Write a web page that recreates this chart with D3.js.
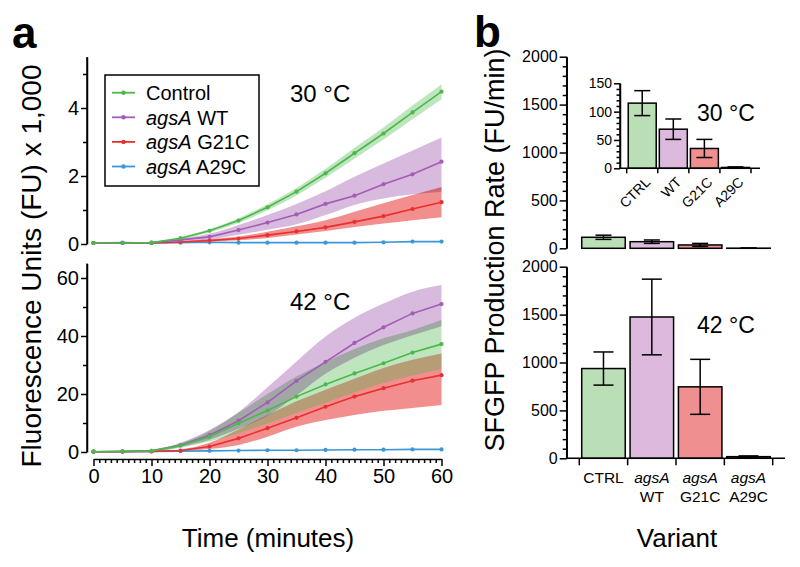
<!DOCTYPE html>
<html>
<head>
<meta charset="utf-8">
<script src="https://cdn.jsdelivr.net/npm/d3@7"></script>
<style>
  html, body { margin: 0; padding: 0; background: #fff; }
  svg { display: block; font-family: "Liberation Sans", Arial, Helvetica, sans-serif; }
</style>
</head>
<body>
<svg id="chart" width="800" height="567"></svg>
<script>
// ---------- DATA ----------
const minutes = [0, 5, 10, 15, 20, 25, 30, 35, 40, 45, 50, 55, 60];

// 30 °C time courses (FU x 1,000)
const ctrl30   = [0.03, 0.03, 0.04, 0.17, 0.39, 0.69, 1.08, 1.54, 2.08, 2.67, 3.25, 3.87, 4.48];
const ctrl30Hi = [0.04, 0.04, 0.05, 0.20, 0.44, 0.76, 1.17, 1.65, 2.21, 2.83, 3.43, 4.07, 4.70];
const ctrl30Lo = [0.02, 0.02, 0.03, 0.14, 0.34, 0.62, 0.99, 1.43, 1.95, 2.51, 3.07, 3.67, 4.26];
const wt30     = [0.03, 0.03, 0.04, 0.12, 0.21, 0.41, 0.63, 0.87, 1.18, 1.42, 1.76, 2.05, 2.42];
const wt30Hi   = [0.03, 0.03, 0.05, 0.16, 0.30, 0.56, 0.85, 1.18, 1.55, 1.98, 2.37, 2.75, 3.13];
const wt30Lo   = [0.03, 0.03, 0.03, 0.08, 0.13, 0.27, 0.42, 0.58, 0.85, 1.15, 1.34, 1.46, 1.54];
const g21c30   = [0.03, 0.03, 0.03, 0.06, 0.10, 0.16, 0.26, 0.37, 0.49, 0.65, 0.82, 1.03, 1.23];
const g21c30Hi = [0.03, 0.03, 0.04, 0.08, 0.14, 0.22, 0.36, 0.52, 0.70, 0.95, 1.20, 1.44, 1.68];
const g21c30Lo = [0.03, 0.03, 0.02, 0.04, 0.07, 0.11, 0.18, 0.28, 0.38, 0.50, 0.60, 0.70, 0.79];
const a29c30   = [0.03, 0.04, 0.03, 0.04, 0.05, 0.04, 0.04, 0.04, 0.04, 0.04, 0.05, 0.07, 0.07];

// 42 °C time courses (FU x 1,000)
const ctrl42   = [0.1, 0.2, 0.4, 2.2, 5.3, 9.9, 14.3, 19.1, 23.3, 27.1, 30.6, 34.3, 37.2];
const ctrl42Hi = [0.2, 0.3, 0.6, 2.9, 7.2, 13.5, 20.0, 26.0, 31.0, 35.5, 39.2, 42.1, 45.5];
const ctrl42Lo = [0.0, 0.1, 0.2, 1.5, 3.6, 6.5, 9.8, 13.5, 17.0, 20.5, 23.8, 26.4, 28.5];
const wt42     = [0.1, 0.2, 0.4, 2.4, 5.8, 10.8, 17.1, 24.5, 31.1, 37.6, 43.0, 47.8, 51.0];
const wt42Hi   = [0.2, 0.3, 0.6, 3.2, 7.6, 13.8, 22.3, 31.2, 39.8, 46.3, 51.2, 55.3, 57.6];
const wt42Lo   = [0.0, 0.1, 0.2, 1.7, 4.2, 8.0, 12.5, 19.5, 27.0, 32.5, 36.9, 40.3, 43.4];
const g21c42   = [0.1, 0.1, 0.2, 0.5, 1.9, 4.7, 8.2, 11.8, 15.6, 19.1, 22.0, 24.6, 26.5];
const g21c42Hi = [0.1, 0.2, 0.3, 0.9, 3.2, 7.8, 12.8, 17.5, 21.5, 25.3, 29.0, 31.8, 34.0];
const g21c42Lo = [0.1, 0.1, 0.1, 0.3, 1.0, 2.4, 5.3, 8.7, 11.0, 12.8, 14.2, 15.2, 16.2];
const a29c42   = [0.1, 0.1, 0.2, 0.3, 0.4, 0.5, 0.6, 0.6, 0.7, 0.8, 0.8, 0.9, 0.9];

// Production rates (FU/min)
const variants   = ["CTRL", "WT", "G21C", "A29C"];
const rate30     = [115, 69, 35, 1.5];
const rate30Err  = [22, 18, 16, 1];
const rate42     = [937, 1475, 746, 17];
const rate42Err  = [173, 395, 287, 8];

// Axis ticks
const yTopTicks = [0, 2, 4];
const yBotTicks = [0, 20, 40, 60];
const xTicks = [0, 10, 20, 30, 40, 50, 60];
const rateTicks = [0, 500, 1000, 1500, 2000];
const insetTicks = [0, 50, 100, 150];

// Series styling
const legendNames = [["", "Control"], ["agsA", " WT"], ["agsA", " G21C"], ["agsA", " A29C"]];
const lineColors = ["#4cb84a", "#a35db5", "#e8312f", "#3a97d8"];
const bandColors = ["#4cb84a", "#d8bade", "#e8312f", "#3a97d8"];
const bandAlpha = [0.36, 1, 0.55, 0.3];
const bandBlend = ["normal", "multiply", "normal", "normal"];
const barFills = ["#badeb5", "#ddbadd", "#f08f8f", "#f4f4f4"];

// ---------- DRAW ----------
const svg = d3.select("#chart");
const FONT = '"Liberation Sans", Arial, Helvetica, sans-serif';

const x = d3.scaleLinear([0, 60], [93.5, 441.5]);
const yTop = d3.scaleLinear([0, 5.5], [244, 57]);
const yBot = d3.scaleLinear([0, 65], [452, 263.5]);

function styleAxis(g, fs) {
  g.selectAll("path.domain").attr("stroke", "#000").attr("stroke-width", 1.5);
  g.selectAll(".tick line").attr("stroke", "#000").attr("stroke-width", 1.5);
  g.selectAll(".tick text").attr("font-size", fs).attr("font-family", FONT).attr("fill", "#000");
}

function yAxisWithMinor(parent, scale, xpos, major, minorStep, fs, majorLen, minorLen, pad, fmt) {
  const d = scale.domain();
  const minor = d3.range(d[0], d[1] + 1e-9, minorStep).filter(v => !major.some(m => Math.abs(m - v) < 1e-9));
  const gm = parent.append("g").attr("transform", `translate(${xpos},0)`)
    .call(d3.axisLeft(scale).tickValues(minor).tickSize(minorLen).tickSizeOuter(0).tickFormat(""));
  styleAxis(gm, fs);
  const g = parent.append("g").attr("transform", `translate(${xpos},0)`)
    .call(d3.axisLeft(scale).tickValues(major).tickSize(majorLen).tickSizeOuter(0).tickPadding(pad).tickFormat(fmt || d3.format("d")));
  styleAxis(g, fs);
  g.select("path.domain").remove();
  return g;
}

// --- Panel a: time courses ---
const topSeries = [
  {v: ctrl30, hi: ctrl30Hi, lo: ctrl30Lo, c: 0},
  {v: wt30, hi: wt30Hi, lo: wt30Lo, c: 1},
  {v: g21c30, hi: g21c30Hi, lo: g21c30Lo, c: 2},
  {v: a29c30, c: 3}
];
const botSeries = [
  {v: ctrl42, hi: ctrl42Hi, lo: ctrl42Lo, c: 0},
  {v: wt42, hi: wt42Hi, lo: wt42Lo, c: 1},
  {v: g21c42, hi: g21c42Hi, lo: g21c42Lo, c: 2},
  {v: a29c42, c: 3}
];

function drawPanel(series, y) {
  const g = svg.append("g").style("isolation", "isolate");
  // band order: red, green, purple (multiply)
  [2, 0, 1].forEach(ci => {
    const s = series.find(q => q.c === ci);
    if (!s.hi) return;
    const area = d3.area()
      .x((d, i) => x(minutes[i]))
      .y0((d, i) => y(s.lo[i]))
      .y1((d, i) => y(s.hi[i]))
      .curve(d3.curveMonotoneX);
    g.append("path").datum(s.v).attr("d", area)
      .attr("fill", bandColors[ci]).attr("fill-opacity", bandAlpha[ci]).attr("stroke", "none")
      .style("mix-blend-mode", bandBlend[ci]);
  });
  [3, 2, 1, 0].forEach(ci => {
    const s = series.find(q => q.c === ci);
    const line = d3.line().x((d, i) => x(minutes[i])).y(d => y(d));
    g.append("path").datum(s.v).attr("d", line)
      .attr("fill", "none").attr("stroke", lineColors[ci]).attr("stroke-width", 1.6);
    g.selectAll(null).data(s.v).enter().append("circle")
      .attr("cx", (d, i) => x(minutes[i])).attr("cy", d => y(d)).attr("r", 2.1)
      .attr("fill", lineColors[ci]);
  });
}
drawPanel(topSeries, yTop);
drawPanel(botSeries, yBot);

// left y axes
const axTop = svg.append("g");
axTop.append("line").attr("x1", 87).attr("x2", 87).attr("y1", yTop(0)).attr("y2", yTop(5.5))
  .attr("stroke", "#000").attr("stroke-width", 1.5);
yAxisWithMinor(axTop, yTop, 87, yTopTicks, 1, 20, 6, 4, 2);
const axBot = svg.append("g");
axBot.append("line").attr("x1", 87).attr("x2", 87).attr("y1", yBot(0)).attr("y2", yBot(65))
  .attr("stroke", "#000").attr("stroke-width", 1.5);
yAxisWithMinor(axBot, yBot, 87, yBotTicks, 10, 20, 6, 4, 2);

// x axis
const xMinor = d3.range(0, 61, 1).filter(v => v % 10 !== 0);
const gxm = svg.append("g").attr("transform", "translate(0,459)")
  .call(d3.axisBottom(x).tickValues(xMinor).tickSize(4).tickSizeOuter(0).tickFormat(""));
styleAxis(gxm, 20);
const gx = svg.append("g").attr("transform", "translate(0,459)")
  .call(d3.axisBottom(x).tickValues(xTicks).tickSize(7).tickSizeOuter(0).tickPadding(3).tickFormat(d3.format("d")));
styleAxis(gx, 20);
gx.select("path.domain").remove();

// panel a texts
svg.append("text").attr("x", 12).attr("y", 48).attr("font-size", 44).attr("font-weight", "bold")
  .attr("font-family", FONT).text("a");
svg.append("text").attr("transform", "translate(41,266) rotate(-90)").attr("text-anchor", "middle")
  .attr("font-size", 28).attr("font-family", FONT).text("Fluorescence Units (FU) x 1,000");
svg.append("text").attr("x", 268).attr("y", 547).attr("text-anchor", "middle")
  .attr("font-size", 26).attr("font-family", FONT).text("Time (minutes)");
svg.append("text").attr("x", 290).attr("y", 101.5).attr("font-size", 24).attr("font-family", FONT).text("30 °C");
svg.append("text").attr("x", 290).attr("y", 309.5).attr("font-size", 24).attr("font-family", FONT).text("42 °C");

// legend
const lg = svg.append("g");
lg.append("rect").attr("x", 105).attr("y", 75).attr("width", 154).attr("height", 111)
  .attr("fill", "#fff").attr("stroke", "#000").attr("stroke-width", 1.5);
legendNames.forEach((nm, i) => {
  const cy = 92.7 + i * 24.6;
  lg.append("line").attr("x1", 112).attr("x2", 135).attr("y1", cy).attr("y2", cy)
    .attr("stroke", lineColors[i]).attr("stroke-width", 1.8);
  lg.append("circle").attr("cx", 123.5).attr("cy", cy).attr("r", 2.2).attr("fill", lineColors[i]);
  const t = lg.append("text").attr("x", 146).attr("y", cy + 7.2).attr("font-size", 20).attr("font-family", FONT);
  if (nm[0]) t.append("tspan").attr("font-style", "italic").text(nm[0]);
  t.append("tspan").text(nm[1]);
});

// --- Panel b: bars ---
const xb = d3.scaleBand(variants, [579.3, 772.7]).paddingInner(0.1).paddingOuter(0.05);
const yRT = d3.scaleLinear([0, 2000], [248.3, 56.7]);
const yRB = d3.scaleLinear([0, 2000], [458.3, 266.7]);
const xi = d3.scaleBand(variants, [626.7, 751]).paddingInner(0.1).paddingOuter(0.05);
const yIn = d3.scaleLinear([0, 150], [168.3, 83.3]);

function drawBars(xs, ys, vals, errs, capW) {
  const g = svg.append("g");
  g.selectAll("rect").data(vals).enter().append("rect")
    .attr("x", (d, i) => xs(variants[i])).attr("width", xs.bandwidth())
    .attr("y", d => ys(d)).attr("height", d => ys(0) - ys(d))
    .attr("fill", (d, i) => barFills[i]).attr("stroke", "#000").attr("stroke-width", 1.5);
  vals.forEach((v, i) => {
    const cx = xs(variants[i]) + xs.bandwidth() / 2;
    const e = errs[i];
    g.append("line").attr("x1", cx).attr("x2", cx).attr("y1", ys(v + e)).attr("y2", ys(v - e))
      .attr("stroke", "#000").attr("stroke-width", 1.5);
    [v + e, v - e].forEach(w => {
      g.append("line").attr("x1", cx - capW / 2).attr("x2", cx + capW / 2).attr("y1", ys(w)).attr("y2", ys(w))
        .attr("stroke", "#000").attr("stroke-width", 1.5);
    });
  });
}

// right axes
const rAxT = svg.append("g");
rAxT.append("line").attr("x1", 566.7).attr("x2", 566.7).attr("y1", yRT(0)).attr("y2", yRT(2000))
  .attr("stroke", "#000").attr("stroke-width", 1.5);
yAxisWithMinor(rAxT, yRT, 566.7, rateTicks, 100, 16, 7, 4, 2);
const rAxB = svg.append("g");
rAxB.append("line").attr("x1", 566.7).attr("x2", 566.7).attr("y1", yRB(0)).attr("y2", yRB(2000))
  .attr("stroke", "#000").attr("stroke-width", 1.5);
yAxisWithMinor(rAxB, yRB, 566.7, rateTicks, 100, 16, 7, 4, 2);

drawBars(xb, yRT, rate30, rate30Err, 16);
drawBars(xb, yRB, rate42, rate42Err, 20);

// bottom right x axis
const stepB = xb.step(), padB = stepB * xb.paddingInner() / 2;
const bounds = variants.map(v => xb(v) - padB).concat([xb(variants[3]) + xb.bandwidth() + padB]);
svg.append("line").attr("x1", 566.7).attr("x2", 785).attr("y1", yRB(0)).attr("y2", yRB(0))
  .attr("stroke", "#000").attr("stroke-width", 1.5);
bounds.forEach(b => svg.append("line").attr("x1", b).attr("x2", b).attr("y1", yRB(0)).attr("y2", yRB(0) + 7)
  .attr("stroke", "#000").attr("stroke-width", 1.5));
variants.forEach((v, i) => {
  const cx = xb(v) + xb.bandwidth() / 2;
  if (i === 0) {
    svg.append("text").attr("x", cx).attr("y", 483).attr("text-anchor", "middle")
      .attr("font-size", 15.5).attr("font-family", FONT).text(v);
  } else {
    svg.append("text").attr("x", cx).attr("y", 483).attr("text-anchor", "middle").attr("font-style", "italic")
      .attr("font-size", 15.5).attr("font-family", FONT).text("agsA");
    svg.append("text").attr("x", cx).attr("y", 502).attr("text-anchor", "middle")
      .attr("font-size", 15.5).attr("font-family", FONT).text(v);
  }
});

// inset
const inG = svg.append("g");
inG.append("line").attr("x1", 620).attr("x2", 620).attr("y1", yIn(0)).attr("y2", yIn(150))
  .attr("stroke", "#000").attr("stroke-width", 1.5);
yAxisWithMinor(inG, yIn, 620, insetTicks, 10, 14, 6, 3.5, 2);
drawBars(xi, yIn, rate30, rate30Err, 16);
const stepI = xi.step(), padI = stepI * xi.paddingInner() / 2;
const boundsI = variants.map(v => xi(v) - padI).concat([xi(variants[3]) + xi.bandwidth() + padI]);
svg.append("line").attr("x1", 620).attr("x2", 760).attr("y1", yIn(0)).attr("y2", yIn(0))
  .attr("stroke", "#000").attr("stroke-width", 1.5);
boundsI.forEach(b => svg.append("line").attr("x1", b).attr("x2", b).attr("y1", yIn(0)).attr("y2", yIn(0) + 5)
  .attr("stroke", "#000").attr("stroke-width", 1.5));
variants.forEach(v => {
  const cx = xi(v) + xi.bandwidth() / 2;
  svg.append("text").attr("transform", `translate(${cx + 9},183) rotate(-45)`).attr("text-anchor", "end")
    .attr("font-size", 14).attr("font-family", FONT).text(v);
});

// panel b texts
svg.append("text").attr("x", 474).attr("y", 47).attr("font-size", 44).attr("font-weight", "bold")
  .attr("font-family", FONT).text("b");
svg.append("text").attr("transform", "translate(504,250) rotate(-90)").attr("text-anchor", "middle")
  .attr("font-size", 27).attr("font-family", FONT).text("SFGFP Production Rate (FU/min)");
svg.append("text").attr("x", 677).attr("y", 547).attr("text-anchor", "middle")
  .attr("font-size", 26).attr("font-family", FONT).text("Variant");
svg.append("text").attr("x", 697).attr("y", 121).attr("font-size", 23).attr("font-family", FONT).text("30 °C");
svg.append("text").attr("x", 697).attr("y", 333).attr("font-size", 23).attr("font-family", FONT).text("42 °C");
</script>
</body>
</html>
